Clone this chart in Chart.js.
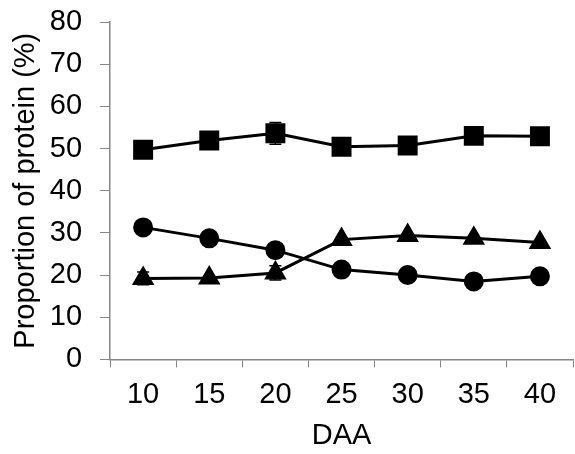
<!DOCTYPE html>
<html>
<head>
<meta charset="utf-8">
<script src="https://cdn.jsdelivr.net/npm/chart.js@4"></script>
<style>
  body { margin: 0; background: #fff; }
  canvas { display: block; }
</style>
</head>
<body>
<canvas id="proteinChart" width="575" height="454"></canvas>
<script>
const days = ['10', '15', '20', '25', '30', '35', '40'];
const squareValues = [49.7, 51.9, 53.6, 50.4, 50.7, 53.0, 52.9];
const circleValues = [31.3, 28.7, 25.9, 21.3, 20.0, 18.5, 19.7];
const triangleValues = [19.2, 19.3, 20.5, 28.4, 29.4, 28.7, 27.7];
const squareErrors = [0.4, 0.4, 2.6, 0.4, 0.4, 0.4, 0.4];
const circleErrors = [0.4, 0.4, 0.4, 0.4, 0.4, 0.4, 0.4];
const triangleErrors = [1.5, 0.4, 1.7, 0.4, 0.4, 0.4, 0.4];

// error bars drawn from each dataset's errors array
const errorBars = {
    id: 'errorBars',
    afterDatasetsDraw(chart) {
        const ctx = chart.ctx;
        const yScale = chart.scales.y;
        ctx.save();
        ctx.strokeStyle = '#000';
        ctx.lineWidth = 1.5;
        chart.data.datasets.forEach((ds, i) => {
            const meta = chart.getDatasetMeta(i);
            meta.data.forEach((pt, j) => {
                const v = ds.data[j];
                const e = ds.errors[j];
                const top = yScale.getPixelForValue(v + e);
                const bot = yScale.getPixelForValue(v - e);
                ctx.beginPath();
                ctx.moveTo(pt.x, top);
                ctx.lineTo(pt.x, bot);
                ctx.moveTo(pt.x - 6, top);
                ctx.lineTo(pt.x + 6, top);
                ctx.moveTo(pt.x - 6, bot);
                ctx.lineTo(pt.x + 6, bot);
                ctx.stroke();
            });
        });
        ctx.restore();
    }
};

const axisColor = '#868686';
const font = { family: "'Liberation Sans', Arial, sans-serif", size: 29 };

const ctx = document.getElementById('proteinChart').getContext('2d');
new Chart(ctx, {
    type: 'line',
    data: {
        labels: days,
        datasets: [
            {
                label: 'Square',
                data: squareValues,
                errors: squareErrors,
                borderColor: '#000',
                backgroundColor: '#000',
                borderWidth: 3,
                pointStyle: 'rect',
                pointRadius: 12,
                fill: false
            },
            {
                label: 'Circle',
                data: circleValues,
                errors: circleErrors,
                borderColor: '#000',
                backgroundColor: '#000',
                borderWidth: 3,
                pointStyle: 'circle',
                pointRadius: 8.5,
                fill: false
            },
            {
                label: 'Triangle',
                data: triangleValues,
                errors: triangleErrors,
                borderColor: '#000',
                backgroundColor: '#000',
                borderWidth: 3,
                pointStyle: 'triangle',
                pointRadius: 10,
                fill: false
            }
        ]
    },
    options: {
        responsive: false,
        animation: false,
        layout: { autoPadding: false, padding: { left: 9, right: 2, top: 22, bottom: 1 } },
        plugins: {
            legend: { display: false },
            tooltip: { enabled: false }
        },
        scales: {
            x: {
                offset: true,
                afterFit(scale) {
                    scale.paddingLeft = 0;
                    scale.paddingRight = 0;
                    // tick padding is counted twice in fit()
                    scale.height -= scale.options.ticks.padding;
                },
                grid: {
                    offset: true,
                    drawOnChartArea: false,
                    color: axisColor,
                    tickLength: 8
                },
                border: { color: axisColor, width: 1.5 },
                ticks: { color: '#000', font: font, padding: 10, maxRotation: 0 },
                title: {
                    display: true,
                    text: 'DAA',
                    color: '#000',
                    font: font,
                    padding: { top: 6, bottom: 0 }
                }
            },
            y: {
                min: 0,
                max: 80,
                afterFit(scale) {
                    scale.paddingTop = 0;
                    scale.paddingBottom = 0;
                    scale.width -= scale.options.ticks.padding;
                },
                ticks: { stepSize: 10, color: '#000', font: font, padding: 18 },
                grid: {
                    drawOnChartArea: false,
                    color: axisColor,
                    tickLength: 10
                },
                border: { color: axisColor, width: 1.5 },
                title: {
                    display: true,
                    text: 'Proportion of protein (%)',
                    color: '#000',
                    font: font,
                    padding: { top: 0, bottom: 6 }
                }
            }
        }
    },
    plugins: [errorBars]
});
</script>
</body>
</html>
